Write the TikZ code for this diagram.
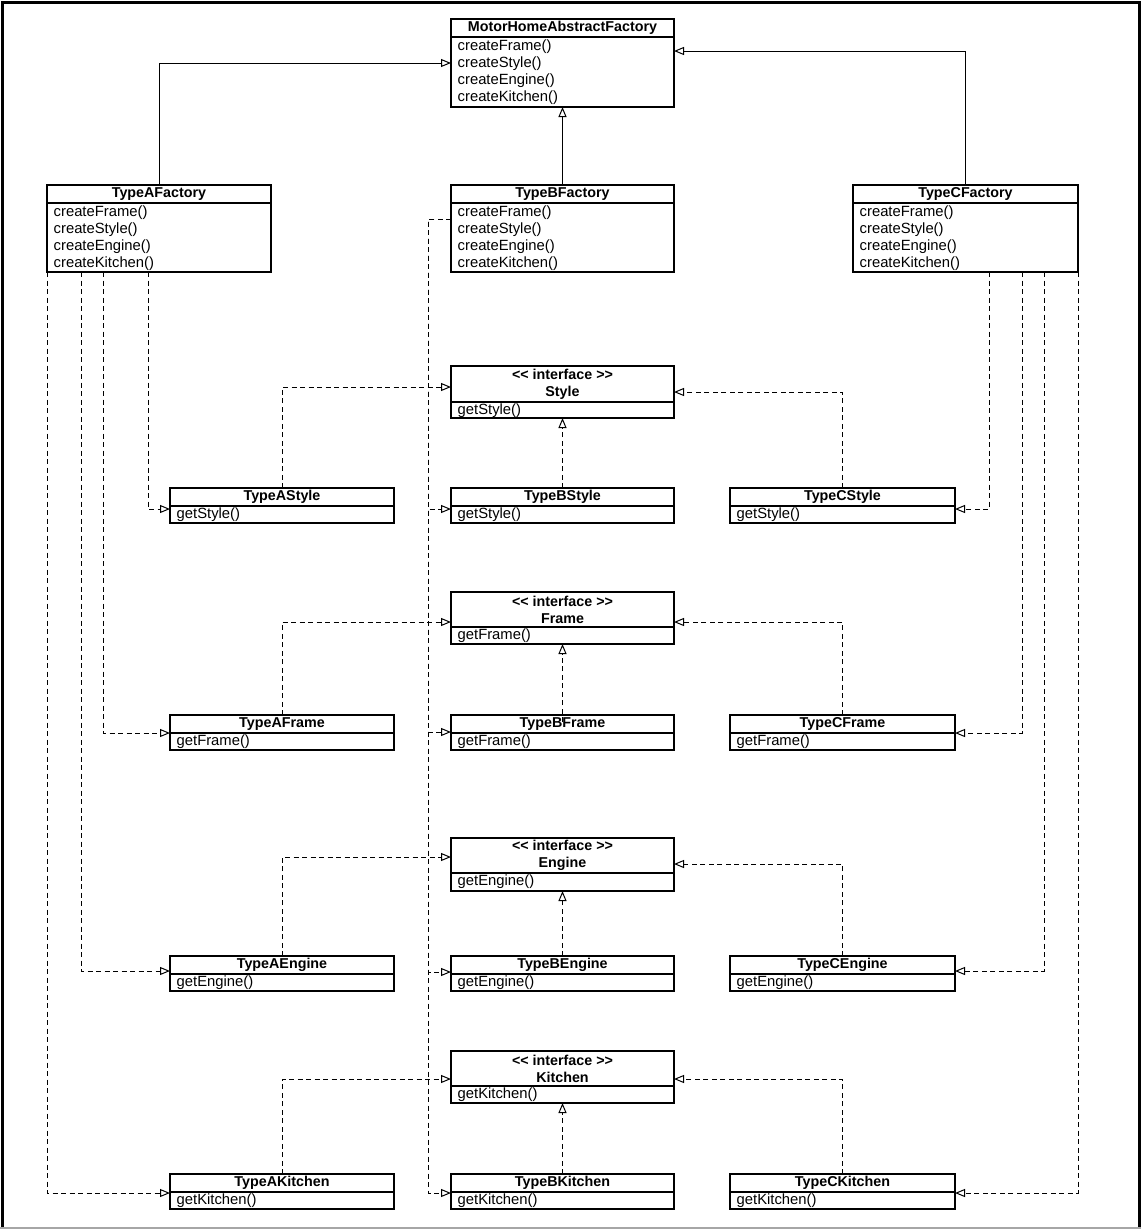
\documentclass[tikz,border=0pt]{standalone}
\usepackage{fontspec}
\setmainfont{Liberation Sans}
\usetikzlibrary{arrows.meta,calc}
\tikzset{
  clsbox/.style={draw=black, line width=1.2pt, fill=white, inner sep=0pt, outer sep=0pt},
  divline/.style={draw=black, line width=1.2pt},
  hdr/.style={font=\fontsize{14.3}{17}\selectfont\bfseries, align=center, inner sep=0pt},
  mtext/.style={font=\fontsize{14.8}{17}\selectfont, anchor=west, inner sep=0pt},
  gen/.style={draw=black, line width=1pt, -{Triangle[open, length=10pt, width=8pt]}},
  real/.style={gen, dash pattern=on 5pt off 3.5pt},
}
% #1 name, #2 x, #3 y, #4 width, #5 height, #6 header height, #7 title
\newcommand{\ucls}[7]{%
  \node[clsbox, minimum width=#4pt, minimum height=#5pt, anchor=north west] (#1) at (#2,#3) {};
  \draw[divline] ($(#1.north west)+(0,#6)$) -- ($(#1.north east)+(0,#6)$);
  \node[hdr] (#1-t) at ($(#1.north)+(0,#6/2)$) {#7};
}
% #1 name, #2 class, #3 y offset, #4 text
\newcommand{\umth}[4]{\node[mtext] (#1) at ($(#2.north west)+(6.5,#3)$) {#4};}
\newcommand{\ifc}{<{}< interface >{}>}
\begin{document}
\begin{tikzpicture}[x=1pt, y=-1pt]
\useasboundingbox (0,0) rectangle (1141,1229);
\fill[white] (0,0) rectangle (1141,1229);

% abstract factory
\ucls{mh}{451}{19}{223}{88}{18}{MotorHomeAbstractFactory}
\umth{mh1}{mh}{28}{createFrame()}
\umth{mh2}{mh}{45}{createStyle()}
\umth{mh3}{mh}{62}{createEngine()}
\umth{mh4}{mh}{79}{createKitchen()}

% factories
\ucls{fa}{47}{185}{224}{87}{18}{TypeAFactory}
\umth{fa1}{fa}{28}{createFrame()}
\umth{fa2}{fa}{45}{createStyle()}
\umth{fa3}{fa}{62}{createEngine()}
\umth{fa4}{fa}{79}{createKitchen()}

\ucls{fb}{451}{185}{223}{87}{18}{TypeBFactory}
\umth{fb1}{fb}{28}{createFrame()}
\umth{fb2}{fb}{45}{createStyle()}
\umth{fb3}{fb}{62}{createEngine()}
\umth{fb4}{fb}{79}{createKitchen()}

\ucls{fc}{853}{185}{225}{87}{18}{TypeCFactory}
\umth{fc1}{fc}{28}{createFrame()}
\umth{fc2}{fc}{45}{createStyle()}
\umth{fc3}{fc}{62}{createEngine()}
\umth{fc4}{fc}{79}{createKitchen()}

% interfaces
\ucls{is}{451}{366}{223}{52}{36}{\ifc\\Style}
\umth{is1}{is}{45}{getStyle()}
\ucls{if}{451}{592}{223}{52}{35}{\ifc\\Frame}
\umth{if1}{if}{44}{getFrame()}
\ucls{ie}{451}{838}{223}{53}{35}{\ifc\\Engine}
\umth{ie1}{ie}{44}{getEngine()}
\ucls{ik}{451}{1051}{223}{52}{35}{\ifc\\Kitchen}
\umth{ik1}{ik}{44}{getKitchen()}

% style implementations
\ucls{sa}{170}{488}{224}{35}{18}{TypeAStyle}
\umth{sa1}{sa}{27}{getStyle()}
\ucls{sb}{451}{488}{223}{35}{18}{TypeBStyle}
\umth{sb1}{sb}{27}{getStyle()}
\ucls{sc}{730}{488}{225}{35}{18}{TypeCStyle}
\umth{sc1}{sc}{27}{getStyle()}

% frame implementations
\ucls{fra}{170}{715}{224}{35}{18}{TypeAFrame}
\umth{fra1}{fra}{27}{getFrame()}
\ucls{frb}{451}{715}{223}{35}{18}{TypeBFrame}
\umth{frb1}{frb}{27}{getFrame()}
\ucls{frc}{730}{715}{225}{35}{18}{TypeCFrame}
\umth{frc1}{frc}{27}{getFrame()}

% engine implementations
\ucls{ena}{170}{956}{224}{35}{18}{TypeAEngine}
\umth{ena1}{ena}{27}{getEngine()}
\ucls{enb}{451}{956}{223}{35}{18}{TypeBEngine}
\umth{enb1}{enb}{27}{getEngine()}
\ucls{enc}{730}{956}{225}{35}{18}{TypeCEngine}
\umth{enc1}{enc}{27}{getEngine()}

% kitchen implementations
\ucls{kia}{170}{1174}{224}{35}{18}{TypeAKitchen}
\umth{kia1}{kia}{27}{getKitchen()}
\ucls{kib}{451}{1174}{223}{35}{18}{TypeBKitchen}
\umth{kib1}{kib}{27}{getKitchen()}
\ucls{kic}{730}{1174}{225}{35}{18}{TypeCKitchen}
\umth{kic1}{kic}{27}{getKitchen()}

% generalizations
\draw[gen] (fa.north) |- ($(mh.north west)+(0,44)$);
\draw[gen] (fb.north) -- (mh.south);
\draw[gen] (fc.north) |- ($(mh.north east)+(0,32)$);

% realizations
\draw[real] (sa.north) |- ($(is.north west)+(0,21)$);
\draw[real] (sb.north) -- (is.south);
\draw[real] (sc.north) |- ($(is.north east)+(0,26)$);
\draw[real] (fra.north) |- ($(if.north west)+(0,30)$);
\draw[real] ($(frb.north)+(0,7)$) -- (if.south);
\draw[real] (frc.north) |- ($(if.north east)+(0,30)$);
\draw[real] (ena.north) |- ($(ie.north west)+(0,19)$);
\draw[real] (enb.north) -- (ie.south);
\draw[real] (enc.north) |- ($(ie.north east)+(0,26)$);
\draw[real] (kia.north) |- ($(ik.north west)+(0,28)$);
\draw[real] (kib.north) -- (ik.south);
\draw[real] (kic.north) |- ($(ik.north east)+(0,28)$);

% factory A dependencies
\draw[real] ($(fa.south west)+(101,0)$) |- ($(sa.north west)+(0,21)$);
\draw[real] ($(fa.south west)+(56,0)$) |- ($(fra.north west)+(0,18)$);
\draw[real] ($(fa.south west)+(34,0)$) |- ($(ena.north west)+(0,15)$);
\draw[real] (fa.south west) |- ($(kia.north west)+(0,19)$);

% factory C dependencies
\draw[real] ($(fc.south east)+(-89,0)$) |- ($(sc.north east)+(0,21)$);
\draw[real] ($(fc.south east)+(-56,0)$) |- ($(frc.north east)+(0,18)$);
\draw[real] ($(fc.south east)+(-34,0)$) |- ($(enc.north east)+(0,15)$);
\draw[real] (fc.south east) |- ($(kic.north east)+(0,19)$);

% factory B dependencies
\draw[real] ($(fb.north west)+(0,34)$) -- ++(-23,0) |- ($(sb.north west)+(0,21)$);
\draw[real] ($(fb.north west)+(0,34)$) -- ++(-23,0) |- ($(frb.north west)+(0,17)$);
\draw[real] ($(fb.north west)+(0,34)$) -- ++(-23,0) |- ($(enb.north west)+(0,16)$);
\draw[real] ($(fb.north west)+(0,34)$) -- ++(-23,0) |- ($(kib.north west)+(0,19)$);

% outer frame
\draw[line width=3pt] (2,1228) -- (2,2) -- (1139,2) -- (1139,1228);
\draw[line width=1.5pt, draw=black!35] (0,1228) -- (1141,1228);
\end{tikzpicture}
\end{document}
